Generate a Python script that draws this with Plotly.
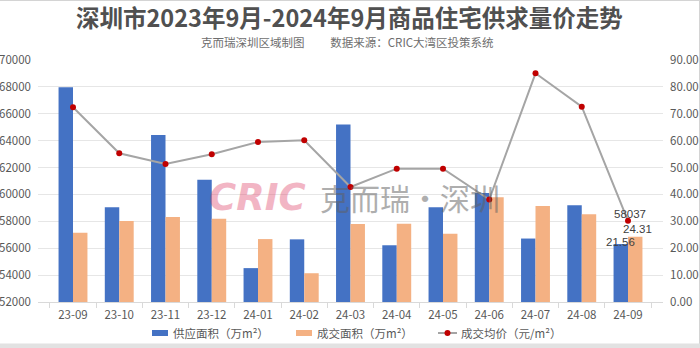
import plotly.graph_objects as go

# Monthly data, Shenzhen commercial housing
months = ["23-09", "23-10", "23-11", "23-12", "24-01", "24-02", "24-03",
          "24-04", "24-05", "24-06", "24-07", "24-08", "24-09"]
supply_area = [79.9, 35.2, 62.1, 45.5, 12.6, 23.3, 66.0, 21.1, 35.2, 40.5, 23.6, 36.0, 21.56]
deal_area = [25.8, 30.1, 31.6, 31.0, 23.4, 10.7, 29.0, 29.1, 25.4, 39.0, 35.7, 32.6, 24.31]
avg_price = [66480, 63060, 62260, 62990, 63900, 64030, 60550, 61920, 61920, 59620, 69010, 66530, 58037]

left_ticks = list(range(52000, 70001, 2000))
right_ticks = list(range(0, 91, 10))

W, H = 700, 348
L, R, T, B = 38, 37, 60, 46
PW, PH = W - L - R, H - T - B

FONT = "Noto Sans CJK SC"
TXT = "#595959"
BLUE = "#4472c4"
ORANGE = "#f4b183"
LINE = "#a5a5a5"
MARK = "#c00000"


def px(x):
    return (x - L) / PW


def py(y):
    return (H - B - y) / PH


fig = go.Figure()
fig.add_trace(go.Bar(x=months, y=supply_area, name="供应面积（万m²）",
                     marker=dict(color=BLUE, line=dict(width=0)), yaxis="y"))
fig.add_trace(go.Bar(x=months, y=deal_area, name="成交面积（万m²）",
                     marker=dict(color=ORANGE, line=dict(width=0)), yaxis="y"))
fig.add_trace(go.Scatter(x=months, y=avg_price, name="成交均价（元/m²）", mode="lines+markers",
                         line=dict(color=LINE, width=2),
                         marker=dict(color=MARK, size=6), yaxis="y2", cliponaxis=False))

annotations = []
shapes = []

# Title and subtitle
annotations.append(dict(text="<b>深圳市2023年9月-2024年9月商品住宅供求量价走势</b>",
                        x=px(349), xref="paper", xanchor="center", y=py(17), yref="paper",
                        yanchor="middle", showarrow=False,
                        font=dict(family=FONT, size=23.5, color="#505050")))
annotations.append(dict(text="克而瑞深圳区域制图" + "\u00a0" * 10 + "数据来源：CRIC大湾区投策系统",
                        x=px(347), xref="paper", xanchor="center", y=py(42), yref="paper",
                        yanchor="middle", showarrow=False,
                        font=dict(family=FONT, size=11.5, color="#6e6e6e")))

# Watermark
annotations.append(dict(text="<b><i>CRIC</i></b>", x=px(257), xref="paper", xanchor="center",
                        y=py(197), yref="paper", yanchor="middle", showarrow=False,
                        opacity=0.4, font=dict(family="DejaVu Sans", size=37, color="#e0486e")))
annotations.append(dict(text="克而瑞·深圳", x=px(318), xref="paper", xanchor="left",
                        y=py(197), yref="paper", yanchor="middle", showarrow=False,
                        opacity=0.5, font=dict(family=FONT, size=30, color="#606060")))

# Value labels on the last month
last = len(months) - 1
LBL = dict(family="Liberation Sans", size=11.5, color="#404040")
annotations.append(dict(text=f"{supply_area[last]:.2f}", x=months[last], xref="x", xshift=-8,
                        y=supply_area[last], yref="y", yanchor="bottom", yshift=-5,
                        borderpad=0, showarrow=False, font=LBL))
annotations.append(dict(text=f"{deal_area[last]:.2f}", x=months[last], xref="x", xshift=9,
                        y=deal_area[last], yref="y", yanchor="bottom", yshift=1,
                        borderpad=0, showarrow=False, font=LBL))
annotations.append(dict(text=f"{avg_price[last]}", x=months[last], xref="x", xshift=2,
                        y=avg_price[last], yref="y2", yanchor="bottom", yshift=0,
                        borderpad=0, showarrow=False, font=LBL))

# Legend
leg_y = 333
shapes.append(dict(type="rect", xref="paper", yref="paper", x0=px(152), x1=px(168),
                   y0=py(330), y1=py(336), fillcolor=BLUE, line=dict(width=0)))
annotations.append(dict(text="供应面积（万m²）", x=px(171), xref="paper", xanchor="left",
                        y=py(leg_y), yref="paper", yanchor="middle", showarrow=False,
                        font=dict(family=FONT, size=11.5, color=TXT)))
shapes.append(dict(type="rect", xref="paper", yref="paper", x0=px(296), x1=px(312),
                   y0=py(330), y1=py(336), fillcolor=ORANGE, line=dict(width=0)))
annotations.append(dict(text="成交面积（万m²）", x=px(315), xref="paper", xanchor="left",
                        y=py(leg_y), yref="paper", yanchor="middle", showarrow=False,
                        font=dict(family=FONT, size=11.5, color=TXT)))
shapes.append(dict(type="line", xref="paper", yref="paper", x0=px(438), x1=px(457),
                   y0=py(leg_y), y1=py(leg_y), line=dict(color=LINE, width=2)))
shapes.append(dict(type="circle", xref="paper", yref="paper", x0=px(444.5), x1=px(450.5),
                   y0=py(leg_y - 3), y1=py(leg_y + 3), fillcolor=MARK, line=dict(width=0)))
annotations.append(dict(text="成交均价（元/m²）", x=px(459), xref="paper", xanchor="left",
                        y=py(leg_y), yref="paper", yanchor="middle", showarrow=False,
                        font=dict(family=FONT, size=11.5, color=TXT)))

# Image frame
shapes.append(dict(type="line", xref="paper", yref="paper", x0=px(0), x1=px(700),
                   y0=py(0.5), y1=py(0.5), line=dict(color="#d4d4d4", width=1)))
shapes.append(dict(type="line", xref="paper", yref="paper", x0=px(699.5), x1=px(699.5),
                   y0=py(0), y1=py(348), line=dict(color="#d4d4d4", width=1)))
shapes.append(dict(type="rect", xref="paper", yref="paper", x0=px(0), x1=px(700),
                   y0=py(343.5), y1=py(348), fillcolor="#e2e2e2", line=dict(width=0)))

fig.update_layout(
    width=W, height=H,
    margin=dict(l=L, r=R, t=T, b=B, pad=0, autoexpand=False),
    paper_bgcolor="white", plot_bgcolor="white",
    barmode="group", bargap=0.375, bargroupgap=0,
    showlegend=False,
    font=dict(family=FONT, size=11.5, color=TXT),
    xaxis=dict(type="category", automargin=False, showgrid=False, showline=True,
               linecolor="#d9d9d9", linewidth=1, ticks="outside", tickson="boundaries",
               ticklen=5, tickcolor="#d9d9d9", ticklabelstandoff=2,
               tickfont=dict(family=FONT, size=11.5, color=TXT)),
    yaxis=dict(side="right", automargin=False, range=[0, 90], tickvals=right_ticks,
               ticktext=[f"{v:.2f}" for v in right_ticks], showgrid=True,
               gridcolor="#e6e6e6", gridwidth=1, zeroline=False, showline=False,
               ticks="", ticklabelstandoff=6,
               tickfont=dict(family=FONT, size=11.5, color=TXT)),
    yaxis2=dict(side="left", overlaying="y", automargin=False, range=[52000, 70000],
                tickvals=left_ticks, ticktext=[str(v) for v in left_ticks], showgrid=False,
                zeroline=False, showline=False, ticks="", ticklabelstandoff=6,
                tickfont=dict(family=FONT, size=11.5, color=TXT)),
    annotations=annotations,
    shapes=shapes,
)

fig.write_html("out.html")
